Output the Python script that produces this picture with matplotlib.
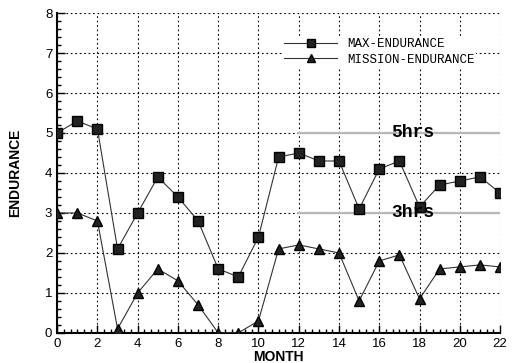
import matplotlib
matplotlib.use("Agg")
import matplotlib.pyplot as plt
from matplotlib.ticker import MultipleLocator

months = list(range(23))
max_endurance = [5.0, 5.3, 5.1, 2.1, 3.0, 3.9, 3.4, 2.8, 1.6, 1.4, 2.4, 4.4, 4.5,
                 4.3, 4.3, 3.1, 4.1, 4.3, 3.15, 3.7, 3.8, 3.9, 3.5]
mission_endurance = [3.0, 3.0, 2.8, 0.1, 1.0, 1.6, 1.3, 0.7, 0.0, 0.0, 0.3, 2.1, 2.2,
                     2.1, 2.0, 0.8, 1.8, 1.95, 0.85, 1.6, 1.65, 1.7, 1.65]
ref_levels = [5, 3]
ref_labels = ["5hrs", "3hrs"]
ref_start = 12
ref_end = 22

fig = plt.figure(figsize=(5.15, 3.63), dpi=100)
ax = fig.add_axes([0.111, 0.083, 0.86, 0.881])

ax.plot(months, max_endurance, color="#333333", lw=0.8, marker="s", ms=7,
        mfc="#222222", mec="black", label="MAX-ENDURANCE", zorder=3)
ax.plot(months, mission_endurance, color="#333333", lw=0.8, marker="^", ms=7,
        mfc="#222222", mec="black", label="MISSION-ENDURANCE", zorder=3)

for lvl, lab in zip(ref_levels, ref_labels):
    ax.plot([ref_start, ref_end], [lvl, lvl], color="#b8b8b8", lw=1.6, zorder=2)
    ax.text(16.6, lvl, lab, family="Liberation Mono", fontweight="bold",
            fontsize=13, ha="left", va="center", color="black", zorder=4)

ax.set_xlim(0, 22)
ax.set_ylim(0, 8)
ax.xaxis.set_major_locator(MultipleLocator(2))
ax.xaxis.set_minor_locator(MultipleLocator(1/3))
ax.yaxis.set_major_locator(MultipleLocator(1))
ax.yaxis.set_minor_locator(MultipleLocator(0.2))
ax.tick_params(which="both", direction="in", colors="black",
               labelsize=9.5, width=1)
ax.tick_params(which="major", length=6)
ax.tick_params(which="minor", length=3)
for lab in ax.get_xticklabels() + ax.get_yticklabels():
    lab.set_family("Liberation Sans")
ax.grid(True, which="major", color="black", linestyle=(0, (1.5, 2.5)), lw=0.8)
ax.spines["top"].set_visible(False)
ax.spines["right"].set_visible(False)
ax.spines["left"].set_linewidth(1.5)
ax.spines["bottom"].set_linewidth(1.5)
ax.set_axisbelow(True)

ax.set_xlabel("MONTH", fontsize=10, fontweight="bold", family="Liberation Sans",
              labelpad=0)
ax.set_ylabel("ENDURANCE", fontsize=10, fontweight="bold", family="Liberation Sans",
              labelpad=16)

leg = ax.legend(loc="upper left", bbox_to_anchor=(0.51, 0.925), frameon=True,
                prop={"family": "Liberation Mono", "size": 9},
                handlelength=4.2, handletextpad=0.8, borderaxespad=0,
                borderpad=0.1, labelspacing=0.28)
leg.get_frame().set_edgecolor("none")
leg.get_frame().set_facecolor("white")
leg.get_frame().set_alpha(1)
for h in leg.legend_handles:
    h.set_markersize(6)

fig.savefig("out.png", dpi=100)
